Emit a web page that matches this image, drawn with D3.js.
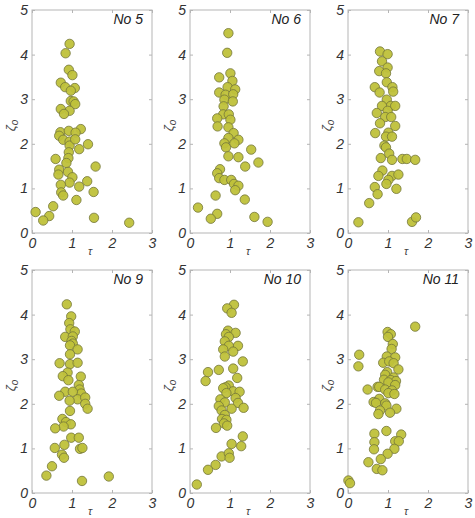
<!DOCTYPE html>
<html>
<head>
<meta charset="utf-8">
<script src="https://cdn.jsdelivr.net/npm/d3@7"></script>
<style>
  body { margin: 0; background: #fff; }
  text { font-family: "Liberation Sans", Arial, sans-serif; }
</style>
</head>
<body>
<svg id="chart"></svg>
<script>
// panel titles
var titles = ["No 5", "No 6", "No 7", "No 9", "No 10", "No 11"];

// tau / zeta0 per panel
var tau5  = [0.94,0.84,0.92,1.01,0.72,0.83,1.07,0.97,0.97,1.04,1.08,0.72,0.94,0.80,0.71,0.92,1.22,1.09,0.68,0.78,0.94,0.94,1.08,1.40,1.18,0.92,0.91,0.59,0.86,1.59,0.68,0.66,0.90,1.01,0.94,1.38,0.72,1.18,0.73,0.78,1.54,1.11,0.53,0.09,0.43,0.28,1.55,2.43];
var zeta5 = [4.24,4.03,3.66,3.54,3.37,3.27,3.25,3.19,2.96,2.95,2.89,2.78,2.74,2.67,2.26,2.29,2.33,2.25,2.18,2.09,2.05,1.96,2.10,1.99,1.88,1.81,1.68,1.66,1.57,1.49,1.42,1.31,1.37,1.25,1.13,1.16,1.08,1.04,0.91,0.84,0.92,0.74,0.60,0.47,0.38,0.28,0.34,0.23];

var tau6  = [0.96,0.93,1.01,0.73,1.06,0.94,0.73,1.13,0.89,1.08,0.86,1.07,0.84,0.83,0.97,0.68,0.69,1.01,0.96,1.09,0.96,1.21,0.86,0.90,1.11,1.53,1.21,0.96,1.71,1.38,0.75,0.68,0.73,0.86,1.03,1.10,1.21,1.13,0.64,1.37,0.20,0.68,0.52,1.61,1.94];
var zeta6 = [4.48,4.04,3.58,3.49,3.41,3.27,3.15,3.22,3.10,3.11,2.99,2.95,2.84,2.66,2.66,2.57,2.39,2.54,2.37,2.24,2.13,2.09,2.01,1.92,2.01,1.87,1.70,1.72,1.58,1.49,1.43,1.34,1.23,1.19,1.19,1.10,1.06,0.96,0.84,0.75,0.57,0.43,0.32,0.36,0.25];

var tau7  = [0.80,0.99,0.85,0.99,0.78,0.95,0.97,0.67,1.11,1.13,0.79,0.97,1.07,0.85,1.18,0.99,0.72,0.93,1.08,0.80,1.18,0.68,1.01,0.95,1.10,0.91,0.95,1.03,0.82,1.10,1.36,1.47,1.68,0.86,0.76,1.10,1.26,1.01,0.96,0.67,1.21,0.74,0.53,0.26,1.60,1.70];
var zeta7 = [4.07,4.01,3.85,3.71,3.63,3.58,3.38,3.27,3.27,3.17,3.15,2.99,2.85,2.85,2.85,2.74,2.69,2.60,2.60,2.46,2.40,2.24,2.25,2.16,2.16,1.96,1.92,1.78,1.68,1.64,1.66,1.66,1.64,1.40,1.28,1.28,1.31,1.19,1.10,1.03,0.99,0.87,0.67,0.24,0.25,0.35];

var tau9  = [0.87,0.98,0.93,0.96,1.07,0.83,1.02,0.99,1.02,0.95,1.14,0.95,0.69,0.95,1.14,0.89,0.77,1.22,0.91,1.17,1.19,1.23,0.83,1.02,0.68,1.14,0.94,1.33,1.33,1.39,0.95,0.76,0.85,0.97,0.79,0.58,0.98,1.17,0.81,0.57,1.20,1.26,0.75,0.80,0.50,0.36,1.25,1.92];
var zeta9 = [4.23,3.96,3.81,3.67,3.62,3.50,3.51,3.41,3.35,3.31,3.22,3.11,2.91,2.89,2.92,2.70,2.62,2.61,2.53,2.42,2.32,2.23,2.27,2.27,2.18,2.10,2.07,2.14,2.00,1.89,1.84,1.66,1.59,1.54,1.49,1.45,1.24,1.24,1.08,1.01,0.99,1.01,0.86,0.79,0.60,0.39,0.27,0.37];

var tau10  = [1.10,0.93,1.04,0.95,1.14,0.90,0.97,0.87,1.20,0.97,0.83,1.08,0.87,1.32,1.08,0.72,0.45,0.39,1.18,0.97,0.89,0.83,1.08,1.24,0.91,0.76,1.14,1.20,0.87,0.72,1.34,1.04,0.79,0.87,0.80,0.91,0.85,0.93,0.65,1.32,1.28,1.04,0.79,0.97,0.99,0.64,0.45,0.17];
var zeta10 = [4.22,4.14,4.04,3.64,3.59,3.56,3.50,3.40,3.30,3.30,3.22,3.17,3.06,2.95,2.79,2.76,2.71,2.51,2.58,2.41,2.37,2.35,2.28,2.27,2.24,2.10,2.13,2.02,2.03,1.95,1.91,1.89,1.85,1.75,1.66,1.64,1.56,1.51,1.46,1.27,1.05,1.10,0.82,0.89,0.79,0.63,0.52,0.19];

var tau11  = [1.68,0.99,1.07,1.00,1.12,1.09,0.28,0.26,0.97,1.18,0.88,1.03,1.14,1.26,0.98,0.93,1.14,0.90,1.07,1.20,1.01,1.18,0.74,0.78,0.93,0.49,1.10,1.01,1.16,0.78,0.64,0.70,0.93,0.96,1.21,0.80,0.76,1.05,0.96,0.66,1.33,0.66,1.18,1.27,0.65,1.16,0.99,0.82,0.51,0.72,0.86,0.01,0.05];
var zeta11 = [3.73,3.61,3.56,3.50,3.34,3.23,3.10,2.84,3.06,3.04,2.92,2.95,2.91,2.77,2.71,2.65,2.59,2.54,2.53,2.51,2.48,2.42,2.38,2.38,2.32,2.32,2.30,2.24,2.22,2.11,2.04,2.02,2.01,1.96,1.89,1.85,1.77,1.80,1.39,1.33,1.31,1.14,1.16,1.16,0.98,0.99,0.88,0.76,0.69,0.54,0.51,0.28,0.22];

var tauTicks = [0, 1, 2, 3];
var zetaTicks = [0, 1, 2, 3, 4, 5];

var panelTau = [tau5, tau6, tau7, tau9, tau10, tau11];
var panelZeta = [zeta5, zeta6, zeta7, zeta9, zeta10, zeta11];

var W = 475, H = 518;
var colX = [32, 190, 348], pw = 120;
var rowY = [10, 270], ph = 223;

var svg = d3.select("#chart").attr("width", W).attr("height", H);

titles.forEach(function(title, i) {
  var left = colX[i % 3], top = rowY[Math.floor(i / 3)];
  var x = d3.scaleLinear().domain([0, 3]).range([0, pw]);
  var y = d3.scaleLinear().domain([0, 5]).range([ph, 0]);

  var g = svg.append("g").attr("transform", "translate(" + left + "," + top + ")");

  // inward ticks on all four sides, MATLAB style
  var tickStyle = function(sel) {
    sel.select(".domain").remove();
    sel.selectAll("line").attr("stroke", "#b5b5b5");
    sel.selectAll("text").attr("fill", "#333").attr("font-style", "italic").attr("font-size", 14);
  };
  g.append("g").attr("transform", "translate(0," + ph + ")")
    .call(d3.axisBottom(x).tickValues(tauTicks).tickSize(-3).tickPadding(5).tickFormat(d3.format("d")))
    .call(tickStyle);
  g.append("g")
    .call(d3.axisTop(x).tickValues(tauTicks).tickSize(-3).tickFormat(""))
    .call(tickStyle);
  g.append("g")
    .call(d3.axisLeft(y).tickValues(zetaTicks).tickSize(-3).tickPadding(4).tickFormat(d3.format("d")))
    .call(tickStyle);
  g.append("g").attr("transform", "translate(" + pw + ",0)")
    .call(d3.axisRight(y).tickValues(zetaTicks).tickSize(-3).tickFormat(""))
    .call(tickStyle);

  g.append("rect").attr("width", pw).attr("height", ph)
    .attr("fill", "none").attr("stroke", "#b5b5b5").attr("stroke-width", 1);

  var pts = panelTau[i].map(function(t, k) { return [t, panelZeta[i][k]]; });
  g.selectAll("circle").data(pts).enter().append("circle")
    .attr("cx", function(d) { return x(d[0]); })
    .attr("cy", function(d) { return y(d[1]); })
    .attr("r", 4.7)
    .attr("fill", "#bfc13a")
    .attr("stroke", "#74763a")
    .attr("stroke-width", 0.8)
    .attr("fill-opacity", 0.95);

  g.append("text").attr("x", pw - 9).attr("y", 14)
    .attr("text-anchor", "end").attr("font-style", "italic")
    .attr("font-size", 14).attr("fill", "#222").text(title);

  // axis labels
  g.append("text").attr("x", pw / 2 - 2).attr("y", ph + 22)
    .attr("text-anchor", "middle").attr("font-style", "italic")
    .attr("font-family", "DejaVu Serif, serif")
    .attr("font-size", 11).attr("fill", "#444").text("τ");

  var yl = g.append("text")
    .attr("transform", "translate(-17," + (ph / 2 + 4) + ") rotate(-90)")
    .attr("text-anchor", "middle").attr("font-style", "italic")
    .attr("font-family", "DejaVu Serif, serif")
    .attr("font-size", 13).attr("fill", "#444");
  yl.append("tspan").text("ζ");
  yl.append("tspan").attr("dy", 3).attr("font-size", 10).text("o");
});
</script>
</body>
</html>
